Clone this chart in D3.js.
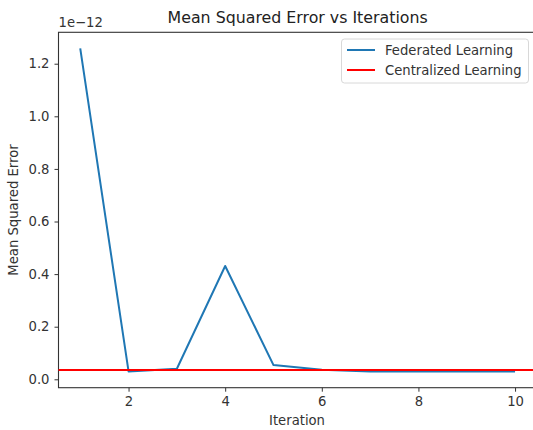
<!DOCTYPE html>
<html><head><meta charset="utf-8">
<script src="https://cdn.jsdelivr.net/npm/d3@7"></script>
<style>body{margin:0;background:#fff}svg{display:block;font-family:"DejaVu Sans",sans-serif}</style>
</head><body><svg id="c" width="533" height="430"></svg>
<script>
const iterations = [1,2,3,4,5,6,7,8,9,10];
const federated = [1.258,0.030,0.040,0.431,0.054,0.036,0.0295,0.0295,0.0295,0.0295];
const centralized = 0.0354;
const xTicks = [2,4,6,8,10];
const yTicks = [0,0.2,0.4,0.6,0.8,1.0,1.2];
const seriesNames = ["Federated Learning","Centralized Learning"];
const colors = ["#1f77b4","red"];

const svg = d3.select("#c");
const L=58.5, R=536.8, T=32.3, B=387.7;
const ymin = d3.min(federated), ymax = d3.max(federated), pad=(ymax-ymin)*0.05;
const x = d3.scaleLinear().domain([0.55,10.45]).range([L,R]);
const y = d3.scaleLinear().domain([ymin-pad, ymax+pad]).range([B,T]);
const txt="#333";
const fs=13.2;

// axes
const xa = svg.append("g").attr("transform",`translate(0,${B})`)
  .call(d3.axisBottom(x).tickValues(xTicks).tickFormat(d3.format("d")).tickSize(4).tickPadding(5));
const ya = svg.append("g").attr("transform",`translate(${L},0)`)
  .call(d3.axisLeft(y).tickValues(yTicks).tickFormat(d3.format(".1f")).tickSize(4).tickPadding(5));
[xa,ya].forEach(g=>{
  g.select(".domain").remove();
  g.selectAll("line").attr("stroke",txt).attr("stroke-width",1);
  g.selectAll("text").attr("fill",txt).attr("font-size",fs).attr("font-family","DejaVu Sans");
});
// spines
svg.append("rect").attr("x",L).attr("y",T).attr("width",R-L).attr("height",B-T)
  .attr("fill","none").attr("stroke",txt).attr("stroke-width",1.1);

// lines
const line = d3.line().x((d,i)=>x(iterations[i])).y(d=>y(d));
svg.append("path").datum(federated).attr("d",line).attr("fill","none")
  .attr("stroke",colors[0]).attr("stroke-width",2).attr("stroke-linejoin","round");
svg.append("line").attr("x1",L).attr("x2",R).attr("y1",y(centralized)).attr("y2",y(centralized))
  .attr("stroke",colors[1]).attr("stroke-width",2);

// texts
svg.append("text").attr("x",(L+R)/2).attr("y",23).attr("text-anchor","middle")
  .attr("font-size",15.8).attr("fill","#222").text("Mean Squared Error vs Iterations");
svg.append("text").attr("x",L).attr("y",27).attr("font-size",fs).attr("fill",txt).text("1e\u221212");
svg.append("text").attr("x",297).attr("y",425).attr("text-anchor","middle")
  .attr("font-size",fs).attr("fill",txt).text("Iteration");
svg.append("text").attr("transform",`translate(18,${(T+B)/2}) rotate(-90)`).attr("text-anchor","middle")
  .attr("font-size",fs).attr("fill",txt).text("Mean Squared Error");

// legend
const lg = svg.append("g");
lg.append("rect").attr("x",341.5).attr("y",39).attr("width",187).attr("height",44).attr("rx",3)
  .attr("fill","#fff").attr("fill-opacity",0.8).attr("stroke","#d8d8d8");
seriesNames.forEach((n,i)=>{
  const yy = 50 + i*20;
  lg.append("line").attr("x1",347).attr("x2",375).attr("y1",yy).attr("y2",yy)
    .attr("stroke",colors[i]).attr("stroke-width",2);
  lg.append("text").attr("x",385).attr("y",yy+4.8).attr("font-size",fs).attr("fill",txt).text(n);
});
</script></body></html>
